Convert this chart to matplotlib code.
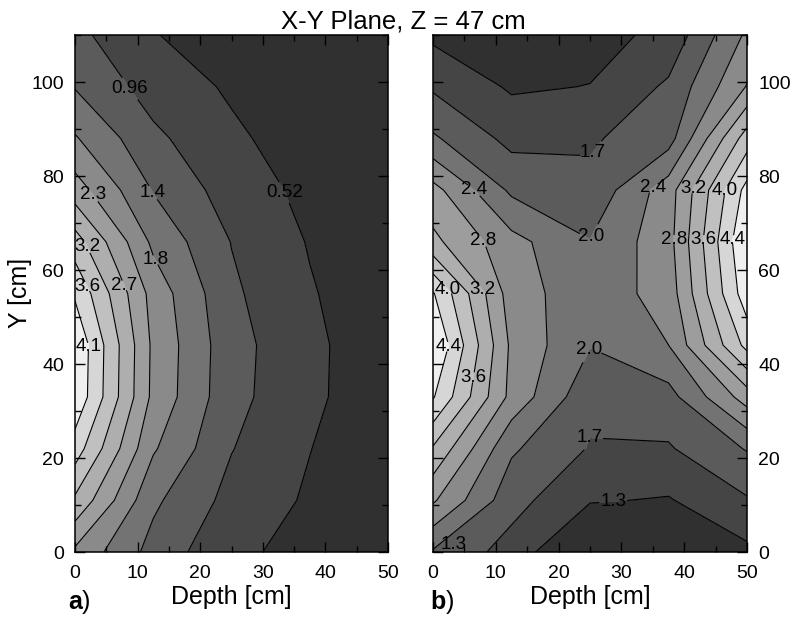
import numpy as np
import matplotlib.pyplot as plt

plt.rcParams['font.family'] = ['Liberation Sans', 'DejaVu Sans']
plt.rcParams['mathtext.fontset'] = 'custom'
plt.rcParams['mathtext.rm'] = 'Liberation Sans'
plt.rcParams['mathtext.bf'] = 'Liberation Sans:bold'

# measurement grid
depth = [0, 12.5, 25, 37.5, 50]
ypos = [0, 11, 22, 33, 44, 55, 66, 77, 88, 99, 110]

# panel a), one row per Y position (values along depth)
dose_a = [
    [2.20, 1.25, 0.60, 0.40, 0.15],
    [3.10, 1.49, 0.82, 0.46, 0.17],
    [3.85, 1.90, 0.98, 0.53, 0.18],
    [4.42, 2.18, 1.10, 0.62, 0.20],
    [4.45, 2.20, 1.12, 0.63, 0.20],
    [4.00, 2.12, 1.04, 0.56, 0.20],
    [3.38, 1.75, 0.95, 0.49, 0.18],
    [2.50, 1.38, 0.755, 0.405, 0.15],
    [1.89, 1.06, 0.60, 0.30, 0.12],
    [1.38, 0.77, 0.46, 0.25, 0.10],
    [1.08, 0.55, 0.21, 0.12, 0.05],
]

# panel b)
dose_b = [
    [2.00, 1.50, 0.75, 0.80, 1.18],
    [2.87, 1.80, 1.30, 1.24, 1.62],
    [3.55, 2.10, 1.63, 1.62, 2.07],
    [4.40, 2.70, 1.76, 1.90, 3.00],
    [4.77, 2.74, 2.06, 2.43, 4.10],
    [4.40, 2.62, 2.18, 2.60, 4.60],
    [3.30, 2.56, 2.06, 2.68, 4.75],
    [2.95, 1.97, 1.75, 2.64, 4.50],
    [2.10, 1.54, 1.61, 1.88, 3.79],
    [1.60, 1.22, 1.28, 1.72, 2.84],
    [1.19, 1.00, 1.12, 1.38, 2.50],
]

levels_a = [0.52, 0.963, 1.406, 1.849, 2.292, 2.735, 3.178, 3.621, 4.064]
levels_b = [1.27, 1.657, 2.044, 2.431, 2.818, 3.205, 3.592, 3.979, 4.366]

# label spots (x, y, gap trim in px: bigger trim for steep lines)
lab_a = [(8.5, 98.3, -5), (3.2, 76.3, -5), (12.2, 76.3, -5),
         (33.8, 76.7, -7), (1.4, 64.7, -6), (12.8, 62.1, -8),
         (2.4, 56.8, -8), (8.0, 56.8, -8), (1.8, 43.7, -9)]
lab_b = [(25, 85.5, 1), (6.7, 77.3, -5), (8.2, 66.6, -6), (25, 67.2, 1),
         (35.1, 77.3, -7), (41.5, 77.3, -8), (46, 77.3, -8),
         (38.3, 66.6, -9), (42.8, 66.6, -9), (47.6, 66.6, -9),
         (2.7, 56.2, -8), (8.2, 56.2, -8), (2.4, 43.7, -8), (7.2, 37, -8),
         (25, 43, 1), (25, 24.3, 0), (28.7, 10.7, 1)]

grays = ['#303030', '#454545', '#5b5b5b', '#737373', '#8a8a8a',
         '#9d9d9d', '#aeaeae', '#c0c0c0', '#d6d6d6', '#efefef']

X, Y = np.meshgrid(depth, ypos)

fig = plt.figure(figsize=(7.93, 6.22), dpi=100)
ax1 = fig.add_axes([0.0946, 0.1125, 0.3947, 0.8312])
ax2 = fig.add_axes([0.546, 0.1125, 0.396, 0.8312])


def draw(ax, z, lv, fmt, labpos):
    z = np.array(z)
    ax.contourf(X, Y, z, levels=[-1] + lv + [9], colors=grays)
    cs = ax.contour(X, Y, z, levels=lv, colors='k', linewidths=0.8)
    for px, py, sp in labpos:
        txt = ax.clabel(cs, manual=[(px, py)], fmt=fmt, fontsize=13.5,
                        inline=True, inline_spacing=sp)
        for t in txt:
            t.set_rotation(0)
    ax.set_xlim(0, 50)
    ax.set_ylim(0, 110)
    ax.set_xticks(np.arange(0, 51, 10))
    ax.set_xticks(np.arange(0, 51, 5), minor=True)
    ax.set_yticks(np.arange(0, 101, 20))
    ax.set_yticks(np.arange(0, 111, 10), minor=True)
    ax.tick_params(which='both', direction='in', top=True, right=True,
                   left=True, bottom=True, labelsize=14, width=1.0)
    ax.tick_params(which='major', length=7)
    ax.tick_params(axis='x', which='major', pad=9)
    ax.tick_params(axis='y', which='major', pad=8)
    ax.tick_params(which='minor', length=4)
    for s in ax.spines.values():
        s.set_linewidth(1.1)


draw(ax1, dose_a, levels_a, '%.2g', lab_a)
draw(ax2, dose_b, levels_b, '%.1f', lab_b)
ax2.text(3.3, 1.6, '1.3', fontsize=13.5, ha='center', va='center')
ax2.tick_params(labelleft=False, labelright=True)

fig.text(231.5 / 793, 1 - 604 / 622, 'Depth [cm]', fontsize=18,
         ha='center', va='baseline')
fig.text(590 / 793, 1 - 604 / 622, 'Depth [cm]', fontsize=18,
         ha='center', va='baseline')
fig.text(68 / 793, 1 - 609 / 622, r'$\mathbf{a}$)', fontsize=18,
         va='baseline')
fig.text(430 / 793, 1 - 609 / 622, r'$\mathbf{b}$)', fontsize=18,
         va='baseline')
fig.text(20 / 793, 1 - 293 / 622, 'Y [cm]', fontsize=18, rotation=90,
         ha='center', va='center')
fig.text(403 / 793, 1 - 28 / 622, 'X-Y Plane, Z = 47 cm', fontsize=18.5,
         ha='center', va='baseline')

fig.savefig('out.png', dpi=100)
